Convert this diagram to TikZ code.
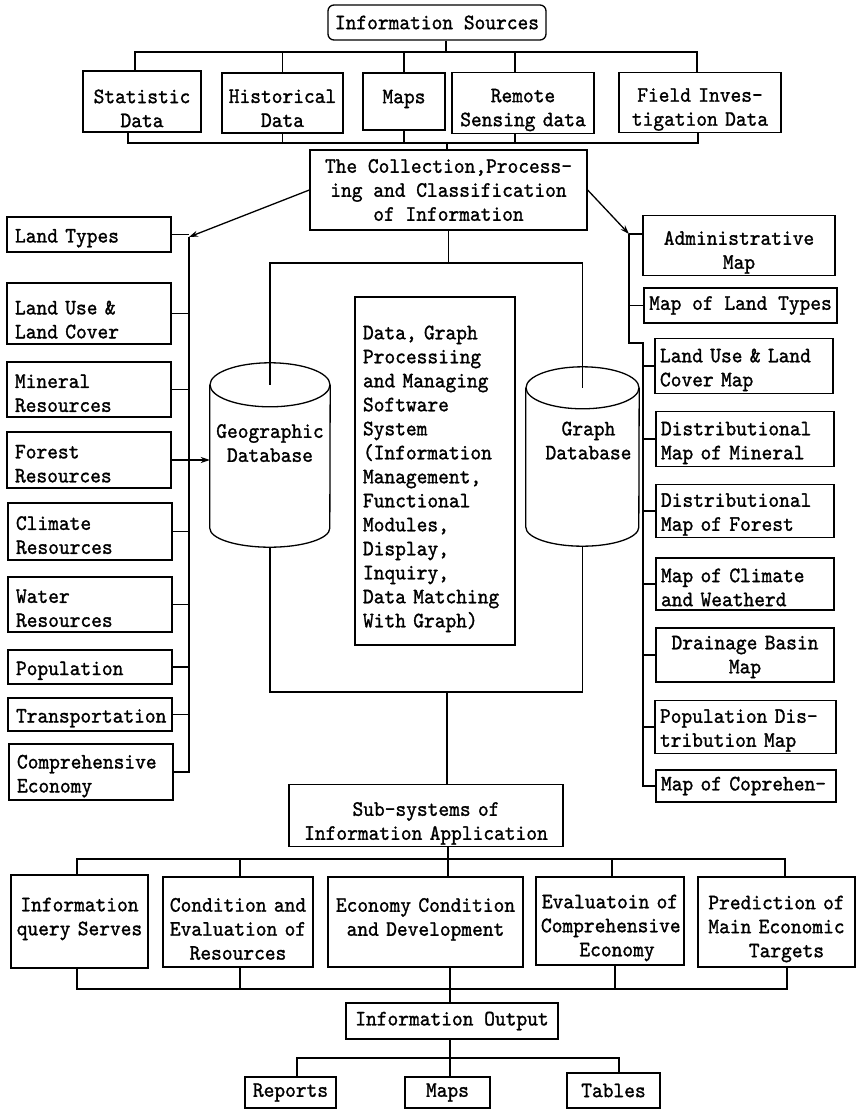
\documentclass[tikz,border=0pt]{standalone}
\usepackage{fontspec}
\newfontfamily\tw{lmmono10-regular}[Extension=.otf, FakeStretch=0.93, FakeBold=1.2]
\usetikzlibrary{arrows.meta,calc}
\begin{document}
\begin{tikzpicture}[x=1pt,y=1pt,
  box/.style={draw, line width=1.3pt, inner xsep=5pt, inner ysep=2pt,
    font={\tw\fontsize{22}{24}\selectfont}, align=center},
  lbox/.style={box, align=left},
  low/.style={execute at begin node={\rule{0pt}{#1}}},
  cyl/.style={inner sep=0pt, font={\tw\fontsize{22}{24}\selectfont}, align=center},
  conn/.style={line width=1.3pt},
  arr/.style={conn, -{Stealth[length=9pt,width=6pt]}}]
\useasboundingbox (0,0) rectangle (857,-1110);

% ---------- top ----------
\node[box, rounded corners=6pt, minimum width=218, minimum height=35] (src) at (437,-22.5) {Information Sources};
\node[box, low=27.5pt, text width=108, minimum height=61] (stat) at (142,-101.5) {Statistic\\Data};
\node[box, low=24pt, text width=111, minimum height=60] (hist) at (282.5,-103) {Historical\\Data};
\node[box, low=27.5pt, text width=72, minimum height=57] (maps) at (404,-101.5) {Maps\\\mbox{}};
\node[box, low=27.5pt, text width=132, minimum height=60] (rem) at (523,-103) {Remote\\Sensing~data};
\node[box, low=27.5pt, text width=152, minimum height=55] (field) at (700,-102.5) {Field~Inves-\\tigation~Data};
\node[box, minimum width=277, minimum height=80] (coll) at (448.5,-190) {The Collection,Process-\\ing and Classification\\of Information};

\coordinate (bus1) at (446,-52);
\coordinate (bus2) at (447,-143);
\draw[conn] (src.south -| bus1) -- (bus1);
\draw[conn] ([xshift=-7pt]stat.north) |- (bus1);
\draw[conn] ([xshift=-3pt]field.north) |- (bus1);
\draw[conn] (hist.north) |- (bus1);
\draw[conn] (maps.north) |- (bus1);
\draw[conn] ([xshift=-8pt]rem.north) |- (bus1);
\draw[conn] ([xshift=-14pt]stat.south) |- (bus2);
\draw[conn] ([xshift=-2pt]field.south) |- (bus2);
\draw[conn] (hist.south) |- (bus2);
\draw[conn] (maps.south) |- (bus2);
\draw[conn] ([xshift=-8pt]rem.south) |- (bus2);
\draw[conn] (bus2) -- (coll.north -| bus2);

% ---------- left column ----------
\tikzset{lcol/.style={lbox, low=21pt, inner xsep=8pt, text width=148}}
\node[lcol, minimum height=35] (lt) at (89,-234.5) {Land~Types};
\node[lcol, low=26pt, minimum height=61] (lu) at (89,-313.5) {Land~Use~\&\\Land~Cover};
\node[lcol, minimum height=55] (mr) at (89,-389.5) {Mineral\\Resources};
\node[lcol, minimum height=56] (fr) at (89,-460) {Forest\\Resources};
\node[lcol, minimum height=57] (cr) at (90,-531.5) {Climate\\Resources};
\node[lcol, minimum height=55] (wr) at (90,-604.5) {Water\\Resources};
\node[lcol, minimum height=34] (pop) at (90,-667) {Population};
\node[lcol, minimum height=33] (tr) at (90,-714.5) {Transportation};
\node[lcol, low=22pt, minimum height=56] (ce) at (91,-772) {Comprehensive\\Economy};

\coordinate (lbt) at (189,-237);
\draw[arr] (coll.west) -- (lbt);
\draw[conn] (lt.east) -- (lt.east -| lbt);
\draw[conn] (lu.east) -- (lu.east -| lbt);
\draw[conn] (mr.east) -- (mr.east -| lbt);
\draw[conn] (cr.east) -- (cr.east -| lbt);
\draw[conn] (wr.east) -- (wr.east -| lbt);
\draw[conn] (pop.east) -- (pop.east -| lbt);
\draw[conn] (tr.east) -- (tr.east -| lbt);
\draw[conn] (lbt) |- (ce.east);

% ---------- cylinders ----------
\node[cyl, minimum width=120, minimum height=184] (geo) at (270,-455) {Geographic\\Database\\\mbox{}};
\draw[conn] ([yshift=-22pt]geo.north) ellipse [x radius=60pt, y radius=22pt];
\draw[conn] ([yshift=-22pt]geo.north west) -- ([yshift=19pt]geo.south west)
  arc[start angle=180, end angle=360, x radius=60pt, y radius=19pt] -- ([yshift=-22pt]geo.north east);
\node[cyl, minimum width=113, minimum height=179] (gra) at (582.5,-456.5) {\hspace*{12pt}Graph\\\hspace*{12pt}Database\\\mbox{}\\[-16pt]\mbox{}};
\draw[conn] ([yshift=-21pt]gra.north) ellipse [x radius=56.5pt, y radius=21pt];
\draw[conn] ([yshift=-21pt]gra.north west) -- ([yshift=19pt]gra.south west)
  arc[start angle=180, end angle=360, x radius=56.5pt, y radius=19pt] -- ([yshift=-21pt]gra.north east);
\draw[arr] (fr.east) -- (fr.east -| geo.west);

% ---------- central box ----------
\node[lbox, low=29.5pt, inner xsep=8pt, text width=144, minimum height=348] (data) at (435,-471)
 {Data,~Graph\\Processiing\\and~Managing\\Software\\System\\(Information\\Management,\\Functional\\Modules,\\Display,\\Inquiry,\\Data~Matching\\With~Graph)};

% frame
\coordinate (ftl) at (270,-263);
\draw[conn] (coll.south) -- (coll.south |- ftl);
\draw[conn] ([yshift=-22pt]geo.north) |- (ftl) -| ([yshift=-21pt]gra.north);
\coordinate (fbl) at (447,-692);

% ---------- right column ----------
\tikzset{rcol/.style={lbox, low=20.5pt}}
\node[box, low=27.5pt, text width=182, minimum height=53] (adm) at (739,-245.5) {Administrative\\Map};
\node[box, minimum width=193, minimum height=35] (mlt) at (740.5,-305.5) {Map of Land Types};
\node[rcol, low=21.5pt, text width=168, minimum height=54] (lum) at (744,-366) {Land~Use~\&~Land\\Cover~Map};
\node[rcol, low=21.5pt, text width=168, minimum height=52] (dmm) at (745,-439) {Distributional\\Map~of~Mineral};
\node[rcol, text width=168, minimum height=52] (dmf) at (745,-511) {Distributional\\Map~of~Forest};
\node[rcol, low=14pt, text width=168, minimum height=52] (mcw) at (745,-584) {Map~of~Climate\\and~Weatherd};
\node[box, low=17.5pt, text width=168, minimum height=54] (dbm) at (745,-655) {Drainage~Basin\\Map};
\node[rcol, text width=171, minimum height=52] (pdm) at (745.5,-727) {Population~Dis-\\tribution~Map};
\node[lbox, text width=170, minimum height=32] (mcp) at (746,-786) {Map~of~Coprehen-};

\coordinate (rbt) at (629,-234);
\coordinate (rbj) at (643,-343);
\draw[arr] (coll.east) -- (rbt);
\draw[conn] (rbt) -- (rbt -| adm.west);
\draw[conn] (mlt.west) -- (mlt.west -| rbt);
\draw[conn] (rbt) |- (rbj) |- (mcp.west);
\draw[conn] (lum.west) -- (lum.west -| rbj);
\draw[conn] (dmm.west) -- (dmm.west -| rbj);
\draw[conn] (dmf.west) -- (dmf.west -| rbj);
\draw[conn] (mcw.west) -- (mcw.west -| rbj);
\draw[conn] (dbm.west) -- (dbm.west -| rbj);
\draw[conn] (pdm.west) -- (pdm.west -| rbj);

% ---------- bottom ----------
\node[box, low=29.5pt, text width=264, minimum height=59] (sub) at (426,-815.5) {Sub-systems~of\\Information~Application};
\draw[conn] (geo.south) |- (fbl) -| (gra.south);
\draw[conn] (fbl) -- (fbl |- sub.north);

\node[box, low=27.5pt, text width=127, minimum height=93] (iq) at (79.5,-921.5) {Information\\query~Serves\\\mbox{}};
\node[box, low=27.5pt, text width=140, minimum height=90] (ce2) at (238,-922) {Condition~and\\Evaluation~of\\Resources};
\node[box, low=27.5pt, text width=185, minimum height=90] (ec) at (425.5,-922) {Economy~Condition\\and~Development\\\mbox{}};
\node[box, low=27.5pt, text width=138, minimum height=88] (ev) at (610,-921) {Evaluatoin~of\\Comprehensive\\\hspace*{14pt}Economy};
\node[box, low=27.5pt, text width=147, minimum height=90] (pr) at (776.5,-922) {Prediction~of\\Main~Economic\\\hspace*{20pt}Targets};

\coordinate (bus3) at (448,-859);
\draw[conn] (sub.south -| bus3) -- (bus3);
\draw[conn] ([xshift=-2.5pt]iq.north) |- (bus3);
\draw[conn] ([xshift=2pt]ce2.north) |- (bus3);
\draw[conn] ([xshift=22.5pt]ec.north) |- (bus3);
\draw[conn] ([xshift=2pt]ev.north) |- (bus3);
\draw[conn] ([xshift=8.5pt]pr.north) |- (bus3);

\node[box, minimum width=212, minimum height=36] (out) at (452,-1021) {Information Output};
\coordinate (bus4) at (450,-989);
\draw[conn] ([xshift=-2.5pt]iq.south) |- (bus4);
\draw[conn] ([xshift=2pt]ce2.south) |- (bus4);
\draw[conn] ([xshift=24.5pt]ec.south) |- (bus4);
\draw[conn] ([xshift=5pt]ev.south) |- (bus4);
\draw[conn] ([xshift=10.5pt]pr.south) |- (bus4);
\draw[conn] (bus4) -- (bus4 |- out.north);

\node[box, minimum width=91, minimum height=31] (rep) at (290.5,-1092.5) {Reports};
\node[box, minimum width=85, minimum height=31] (maps2) at (447.5,-1092.5) {Maps};
\node[box, minimum width=93, minimum height=35] (tab) at (613.5,-1090.5) {Tables};
\coordinate (bus5) at (450,-1058);
\draw[conn] (out.south -| bus5) -- (bus5);
\draw[conn] ([xshift=6.5pt]rep.north) |- (bus5);
\draw[conn] ([xshift=2.5pt]maps2.north) |- (bus5);
\draw[conn] ([xshift=5.5pt]tab.north) |- (bus5);
\end{tikzpicture}
\end{document}
